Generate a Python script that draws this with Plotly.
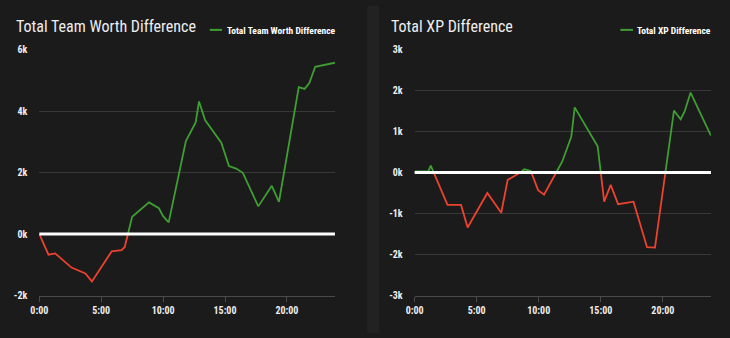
import plotly.graph_objects as go

# ---------------- data ----------------
# time in minutes
t_team = [0, 0.74, 1.28, 2.6, 3.72, 4.25, 5.85, 6.65, 6.9, 7.5, 8.86, 9.66, 10.0, 10.45,
          11.84, 12.63, 12.9, 13.4, 14.7, 15.32, 15.9, 16.44, 17.69, 18.78, 19.36,
          20.96, 21.44, 21.81, 22.29, 23.88]
v_team = [0, -670, -630, -1090, -1280, -1540, -560, -520, -420, 560, 1030, 840, 580, 380,
          3020, 3630, 4310, 3700, 2970, 2210, 2130, 1990, 900, 1570, 1050,
          4780, 4720, 4910, 5440, 5570]

t_xp = [0, 1.1, 1.3, 2.65, 3.74, 4.27, 5.86, 6.98, 7.5, 8.44, 8.84, 9.36, 9.95, 10.43,
        11.9, 12.63, 12.9, 14.75, 15.28, 15.8, 16.4, 17.64, 18.73, 19.37, 20.9, 21.44,
        21.76, 22.24, 23.88]
v_xp = [30, 30, 170, -790, -790, -1340, -500, -980, -180, -20, 80, 40, -430, -540,
        270, 880, 1590, 640, -710, -300, -770, -710, -1820, -1830, 1510, 1300,
        1490, 1950, 900]

titles = ["Total Team Worth Difference", "Total XP Difference"]
x_tickvals = [0, 5, 10, 15, 20]
x_ticktext = ["0:00", "5:00", "10:00", "15:00", "20:00"]
y1_tickvals = [-2000, 0, 2000, 4000, 6000]
y1_ticktext = ["-2k", "0k", "2k", "4k", "6k"]
y2_tickvals = [-3000, -2000, -1000, 0, 1000, 2000, 3000]
y2_ticktext = ["-3k", "-2k", "-1k", "0k", "1k", "2k", "3k"]

# ---------------- style ----------------
W, H = 730, 338
BG = "#1b1b1b"
GREEN = "#3e9e32"
RED = "#ec422e"
GRID = "#383838"
TXT = "#eeeeee"
FONT = "Roboto Condensed, Liberation Sans Narrow, DejaVu Sans Condensed, Roboto, sans-serif"


def split_sign(t, v):
    """Insert zero crossings and return (x, green_y, red_y)."""
    xs, ys = [t[0]], [v[0]]
    for i in range(1, len(t)):
        y0, y1 = v[i - 1], v[i]
        if (y0 > 0 and y1 < 0) or (y0 < 0 and y1 > 0):
            xc = t[i - 1] + (t[i] - t[i - 1]) * (-y0) / (y1 - y0)
            xs.append(xc)
            ys.append(0)
        xs.append(t[i])
        ys.append(y1)
    g = [y if y >= 0 else None for y in ys]
    r = [y if y <= 0 else None for y in ys]
    return xs, g, r


def px2x(p):
    return p / W


def px2y(p):
    return 1 - p / H


fig = go.Figure()

panels = [(t_team, v_team, "x", "y"), (t_xp, v_xp, "x2", "y2")]
for (t, v, xa, ya), name in zip(panels, titles):
    xs, g, r = split_sign(t, v)
    fig.add_trace(go.Scatter(x=xs, y=r, mode="lines", line=dict(color=RED, width=1.8),
                             xaxis=xa, yaxis=ya, showlegend=False, hoverinfo="skip"))
    fig.add_trace(go.Scatter(x=xs, y=g, mode="lines", line=dict(color=GREEN, width=1.8),
                             xaxis=xa, yaxis=ya, name=name, showlegend=False))

# plot area positions (pixels)
left = (30.7, 330.0)
right = (410.7, 710.7)
top, bottom = 45.0, 299.3
ydom = [px2y(bottom), px2y(top)]

axis_font = dict(family=FONT, size=10, color=TXT, weight="bold")

common_x = dict(range=[0, 23.88], tickvals=x_tickvals, ticktext=x_ticktext,
                showgrid=False, zeroline=False, showline=True, linecolor="#4a4a4a",
                linewidth=1, ticks="outside", ticklen=5, tickcolor="#4a4a4a",
                tickfont=axis_font, fixedrange=True)
common_y = dict(showgrid=True, gridcolor=GRID, gridwidth=1, zeroline=False,
                showline=False, ticks="", tickfont=axis_font, ticklabelstandoff=11,
                fixedrange=True)

fig.update_layout(
    width=W, height=H,
    margin=dict(l=0, r=0, t=0, b=0),
    paper_bgcolor=BG, plot_bgcolor=BG,
    showlegend=False,
    xaxis=dict(domain=[px2x(left[0]), px2x(left[1])], anchor="y", **common_x),
    yaxis=dict(domain=ydom, anchor="x", range=[-2000, 6000], tickvals=y1_tickvals,
               ticktext=y1_ticktext, **common_y),
    xaxis2=dict(domain=[px2x(right[0]), px2x(right[1])], anchor="y2", **common_x),
    yaxis2=dict(domain=ydom, anchor="x2", range=[-3000, 3000], tickvals=y2_tickvals,
                ticktext=y2_ticktext, **common_y),
)

shapes = [
    # separator band between the two panels
    dict(type="rect", xref="paper", yref="paper", x0=px2x(362.7), x1=px2x(375),
         y0=0, y1=1, fillcolor="#222222", line=dict(width=0), layer="below"),
    # white zero lines
    dict(type="line", xref="x domain", yref="y", x0=0, x1=1, y0=0, y1=0,
         line=dict(color="white", width=3), layer="above"),
    dict(type="line", xref="x2 domain", yref="y2", x0=0, x1=1, y0=0, y1=0,
         line=dict(color="white", width=3), layer="above"),
    # legend samples
    dict(type="line", xref="paper", yref="paper", x0=px2x(203.3), x1=px2x(215.7),
         y0=px2y(24.7), y1=px2y(24.7), line=dict(color=GREEN, width=2)),
    dict(type="line", xref="paper", yref="paper", x0=px2x(619), x1=px2x(631.7),
         y0=px2y(24.7), y1=px2y(24.7), line=dict(color=GREEN, width=2)),
]
fig.update_layout(shapes=shapes)

annotations = [
    dict(text=titles[0], xref="paper", yref="paper", x=px2x(5.5), y=px2y(21),
         xanchor="left", yanchor="middle", showarrow=False,
         font=dict(family=FONT, size=16, color=TXT)),
    dict(text=titles[1], xref="paper", yref="paper", x=px2x(385), y=px2y(21),
         xanchor="left", yanchor="middle", showarrow=False,
         font=dict(family=FONT, size=16, color=TXT)),
    dict(text=titles[0], xref="paper", yref="paper", x=px2x(218.5), y=px2y(25),
         xanchor="left", yanchor="middle", showarrow=False,
         font=dict(family=FONT, size=9.5, color="#ffffff", weight="bold")),
    dict(text=titles[1], xref="paper", yref="paper", x=px2x(634.2), y=px2y(25),
         xanchor="left", yanchor="middle", showarrow=False,
         font=dict(family=FONT, size=9.5, color="#ffffff", weight="bold")),
]
fig.update_layout(annotations=annotations)

fig.write_html("out.html", config=dict(displayModeBar=False))
